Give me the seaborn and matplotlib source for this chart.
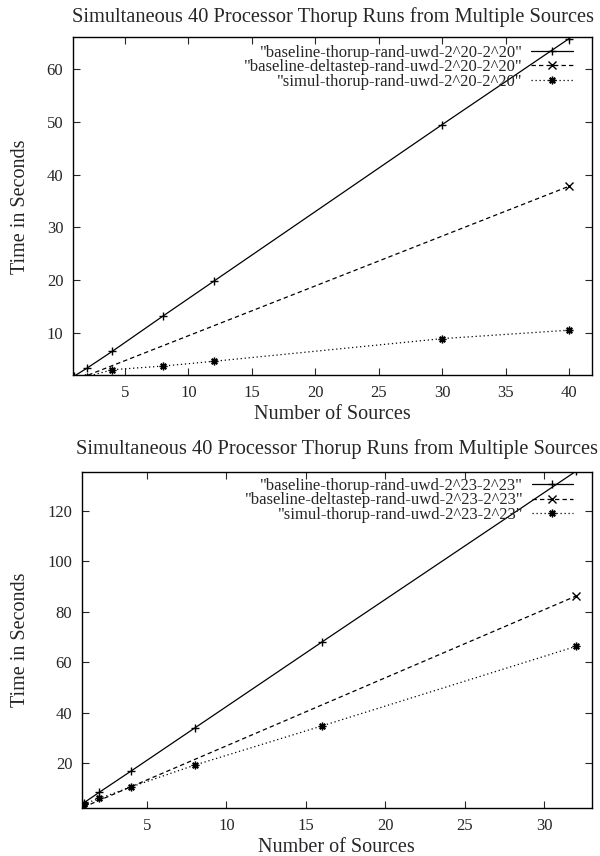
import pandas as pd
import numpy as np
import seaborn as sns
import matplotlib.pyplot as plt

# values
src_top = [1, 2, 4, 8, 12, 30, 40]
thorup_top = [1.8, 3.3, 6.5, 13.2, 19.8, 49.5, 65.8]
delta_top_x = [1, 40]
delta_top = [0.95, 37.8]
simul_top = [1.2, 1.7, 3.0, 3.7, 4.6, 8.9, 10.5]

src_bot = [1, 2, 4, 8, 16, 32]
thorup_bot = [4.3, 8.6, 17.0, 34.0, 68.0, 135.6]
delta_bot_x = [1, 32]
delta_bot = [2.7, 86.2]
simul_bot = [3.9, 6.1, 10.7, 19.3, 34.8, 66.3]

names_top = ['"baseline-thorup-rand-uwd-2^20-2^20"',
             '"baseline-deltastep-rand-uwd-2^20-2^20"',
             '"simul-thorup-rand-uwd-2^20-2^20"']
names_bot = ['"baseline-thorup-rand-uwd-2^23-2^23"',
             '"baseline-deltastep-rand-uwd-2^23-2^23"',
             '"simul-thorup-rand-uwd-2^23-2^23"']

title = "Simultaneous 40 Processor Thorup Runs from Multiple Sources"

sns.set_style("ticks")
plt.rcParams["font.family"] = ["Liberation Serif", "DejaVu Serif"]
plt.rcParams["mathtext.default"] = "regular"

fig = plt.figure(figsize=(6, 8.56), dpi=100)
ax1 = fig.add_axes([0.1217, 0.5619, 0.865, 0.3943])
ax2 = fig.add_axes([0.1367, 0.0557, 0.8493, 0.3933])

asterisk = (8, 2, 0)
styles = [dict(linestyle="-", marker="+"),
          dict(linestyle=(0, (3.5, 2.5)), marker="x"),
          dict(linestyle=(0, (1, 2.2)), marker=asterisk)]


def panel(ax, series, names, xlim, ylim, xticks, yticks, tpad, ylab_x, leg_xy):
    for (x, y), name, st in zip(series, names, styles):
        d = pd.DataFrame({"sources": x, "time": y})
        sns.lineplot(data=d, x="sources", y="time", ax=ax, color="black",
                     linewidth=0.9, markersize=5.5, markeredgewidth=1.0,
                     markeredgecolor="black", markerfacecolor="black",
                     label=name, **st)
    ax.set_xlim(*xlim)
    ax.set_ylim(*ylim)
    ax.set_xticks(xticks)
    ax.set_yticks(yticks)
    ax.tick_params(direction="in", top=True, right=True, length=5,
                   width=0.8, labelsize=12, pad=7)
    for s in ax.spines.values():
        s.set_linewidth(1.0)
        s.set_color("black")
    ax.set_xlabel("Number of Sources", fontsize=14.5, labelpad=3)
    ax.set_ylabel("Time in Seconds", fontsize=14.5)
    ax.yaxis.set_label_coords(ylab_x, 0.5)
    ax.set_title(title, fontsize=14.7, pad=tpad)
    ax.legend(loc="upper right", bbox_to_anchor=leg_xy, markerfirst=False,
              frameon=False, fontsize=12, handlelength=2.5, handletextpad=0.5,
              labelspacing=-0.1, borderaxespad=0, borderpad=0)


panel(ax1, [(src_top, thorup_top), (delta_top_x, delta_top), (src_top, simul_top)],
      names_top, (0.9, 41.8), (2.0, 66.0), [5, 10, 15, 20, 25, 30, 35, 40],
      [10, 20, 30, 40, 50, 60], 11, -0.083, (0.963, 0.978))
panel(ax2, [(src_bot, thorup_bot), (delta_bot_x, delta_bot), (src_bot, simul_bot)],
      names_bot, (0.9, 33.0), (2.2, 135.5), [5, 10, 15, 20, 25, 30],
      [20, 40, 60, 80, 100, 120], 13, -0.102, (0.964, 0.981))

fig.savefig("out.png", dpi=100)
